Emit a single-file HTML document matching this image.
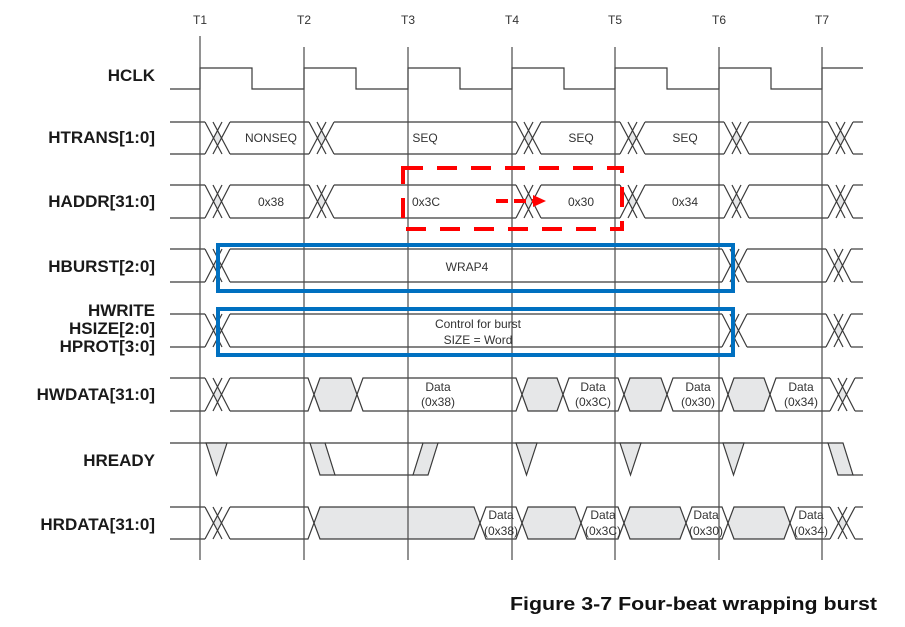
<!DOCTYPE html>
<html><head><meta charset="utf-8"><style>
html,body{margin:0;padding:0;background:#fff;}
svg{display:block;}
text{font-family:"Liberation Sans",Arial,sans-serif;}
.lb{font-weight:bold;font-size:17px;fill:#1a1a1a;text-anchor:end;}
.t{font-size:12px;fill:#333;text-anchor:middle;}
</style></head><body>
<svg id="s" width="905" height="627" viewBox="0 0 905 627" xmlns="http://www.w3.org/2000/svg">
<g id="rows"></g>
<g id="top"></g>
<text class="lb" x="155" y="81">HCLK</text>
<text class="lb" x="155" y="143">HTRANS[1:0]</text>
<text class="lb" x="155" y="207">HADDR[31:0]</text>
<text class="lb" x="155" y="272">HBURST[2:0]</text>
<text class="lb" x="155" y="316">HWRITE</text>
<text class="lb" x="155" y="334">HSIZE[2:0]</text>
<text class="lb" x="155" y="352">HPROT[3:0]</text>
<text class="lb" x="155" y="400">HWDATA[31:0]</text>
<text class="lb" x="155" y="466">HREADY</text>
<text class="lb" x="155" y="530">HRDATA[31:0]</text>
<g class="t">
<text class="t" x="200" y="24">T1</text><text class="t" x="304" y="24">T2</text><text class="t" x="408" y="24">T3</text>
<text class="t" x="512" y="24">T4</text><text class="t" x="615" y="24">T5</text><text class="t" x="719" y="24">T6</text><text class="t" x="822" y="24">T7</text>
<text class="t" x="271" y="142">NONSEQ</text><text class="t" x="425" y="142">SEQ</text><text class="t" x="581" y="142">SEQ</text><text class="t" x="685" y="142">SEQ</text>
<text class="t" x="271" y="206">0x38</text><text class="t" x="426" y="206">0x3C</text><text class="t" x="581" y="206">0x30</text><text class="t" x="685" y="206">0x34</text>
<text class="t" x="467" y="271">WRAP4</text>
<text class="t" x="478" y="328">Control for burst</text><text class="t" x="478" y="344">SIZE = Word</text>
<text class="t" x="438" y="391">Data</text><text class="t" x="438" y="406">(0x38)</text>
<text class="t" x="593" y="391">Data</text><text class="t" x="593" y="406">(0x3C)</text>
<text class="t" x="698" y="391">Data</text><text class="t" x="698" y="406">(0x30)</text>
<text class="t" x="801" y="391">Data</text><text class="t" x="801" y="406">(0x34)</text>
<text class="t" x="501" y="519">Data</text><text class="t" x="501" y="535">(0x38)</text>
<text class="t" x="603" y="519">Data</text><text class="t" x="603" y="535">(0x3C)</text>
<text class="t" x="706" y="519">Data</text><text class="t" x="706" y="535">(0x30)</text>
<text class="t" x="811" y="519">Data</text><text class="t" x="811" y="535">(0x34)</text>
</g>
<text x="510" y="610" font-weight="bold" font-size="18" fill="#111" textLength="367" lengthAdjust="spacingAndGlyphs">Figure 3-7 Four-beat wrapping burst</text>
</svg>
<script>
var NS="http://www.w3.org/2000/svg",R=document.getElementById("rows"),TP=document.getElementById("top");
var G="#e6e7e8",W="#fff",SC="#3a3a3a";
function el(p,t,a){var e=document.createElementNS(NS,t);for(var k in a)e.setAttribute(k,a[k]);p.appendChild(e);return e;}
function pl(p,pts,extra){var a={points:pts.map(function(q){return q.join(",")}).join(" "),fill:"none",stroke:SC,"stroke-width":1.2};for(var k in extra)a[k]=extra[k];return el(p,"polyline",a);}
function row(top,bot,regs,dxs){
 var m=(top+bot)/2,h=6;
 regs.forEach(function(r){
  var xl=r[0],lt=r[1],xr=r[2],rt=r[3],f=r[4]||W;
  var L=lt=="p"?[[xl,m],[xl+h,top]]:[[xl,top]];
  var Rt=rt=="p"?[[xr-h,top],[xr,m]]:[[xr,top]];
  var Lb=lt=="p"?[[xl,m],[xl+h,bot]]:[[xl,bot]];
  var Rb=rt=="p"?[[xr-h,bot],[xr,m]]:[[xr,bot]];
  var poly=L.concat(Rt).concat(Rb.slice().reverse()).concat(Lb.slice().reverse());
  el(R,"polygon",{points:poly.map(function(q){return q.join(",")}).join(" "),fill:f,stroke:"none"});
  pl(R,L.concat(Rt));pl(R,Lb.concat(Rb));
 });
 dxs.forEach(function(a){
  var hh=bot-top,dy=4.5*hh/17;
  el(R,"polygon",{points:[[a+8.5,m],[a+12.5,top+dy],[a+16.5,m],[a+12.5,bot-dy]].map(function(q){return q.join(",")}).join(" "),fill:G});
  pl(R,[[a,top],[a+17,bot]]);pl(R,[[a,bot],[a+17,top]]);
  pl(R,[[a+8,top],[a+25,bot]]);pl(R,[[a+8,bot],[a+25,top]]);
 });
}
// HCLK
var T=[200,304,408,512,615,719,822],c=[[170,89],[200,89]];
T.forEach(function(x,i){c.push([x,68]);if(i<6){c.push([x+52,68],[x+52,89],[T[i+1],89]);}else c.push([863,68]);});
pl(R,c);
// standard 6-cross rows
function std(top,bot){row(top,bot,[[170,"f",205,"f"],[230,"f",309,"f"],[334,"f",516,"f"],[541,"f",620,"f"],[645,"f",724,"f"],[749,"f",828,"f"],[853,"f",863,"f"]],[205,309,516,620,724,828]);}
std(122,154);std(185,218);
function ctl(top,bot){row(top,bot,[[170,"f",205,"f"],[230,"f",722,"f"],[747,"f",826,"f"],[851,"f",863,"f"]],[205,722,826]);}
ctl(249,282);ctl(314,347);
row(378,411,[[170,"f",205,"f"],[230,"f",314,"p",W],[314,"p",357,"p",G],[357,"p",522,"p",W],[522,"p",563,"p",G],[563,"p",624,"p",W],[624,"p",667,"p",G],[667,"p",728,"p",W],[728,"p",770,"p",G],[770,"p",830,"f",W],[855,"f",863,"f"]],[205,830]);
row(507,539,[[170,"f",205,"f"],[230,"f",314,"p",W],[314,"p",480,"p",G],[480,"p",522,"p",W],[522,"p",581,"p",G],[581,"p",624,"p",W],[624,"p",686,"p",G],[686,"p",728,"p",W],[728,"p",790,"p",G],[790,"p",830,"f",W],[855,"f",863,"f"]],[205,830]);
// HREADY
var hi=443,lo=475;
pl(R,[[170,hi],[310,hi]]);
pl(R,[[325,hi],[423,hi]]);pl(R,[[438,hi],[828,hi]]);
pl(R,[[335,lo],[413,lo]]);pl(R,[[853,lo],[863,lo]]);
function tri(a){el(R,"polygon",{points:a+","+hi+" "+(a+21)+","+hi+" "+(a+10.5)+","+lo,fill:G,stroke:SC,"stroke-width":1.2});}
[206,516,620,723].forEach(tri);
function par(pts){el(R,"polygon",{points:pts.map(function(q){return q.join(",")}).join(" "),fill:G,stroke:SC,"stroke-width":1.2});}
par([[310,hi],[325,hi],[335,lo],[320,lo]]);
par([[423,hi],[438,hi],[428,lo],[413,lo]]);
par([[828,hi],[843,hi],[853,lo],[838,lo]]);
// T lines
T.forEach(function(x,i){el(TP,"line",{x1:x,y1:i==0?36:47,x2:x,y2:560,stroke:"#4a4a4a","stroke-width":1.2});});
// red dashed box + arrow
el(TP,"rect",{x:403,y:168,width:219,height:61,fill:"none",stroke:"#ff0000","stroke-width":4,"stroke-dasharray":"20 14"});
el(TP,"line",{x1:496,y1:201,x2:534,y2:201,stroke:"#ff0000","stroke-width":4,"stroke-dasharray":"12 6"});
el(TP,"polygon",{points:"533,195 546,201 533,207",fill:"#ff0000"});
// blue boxes
el(TP,"rect",{x:218,y:245,width:515,height:46,fill:"none",stroke:"#0070c0","stroke-width":4});
el(TP,"rect",{x:218,y:309,width:515,height:46,fill:"none",stroke:"#0070c0","stroke-width":4});
</script>
</body></html>
